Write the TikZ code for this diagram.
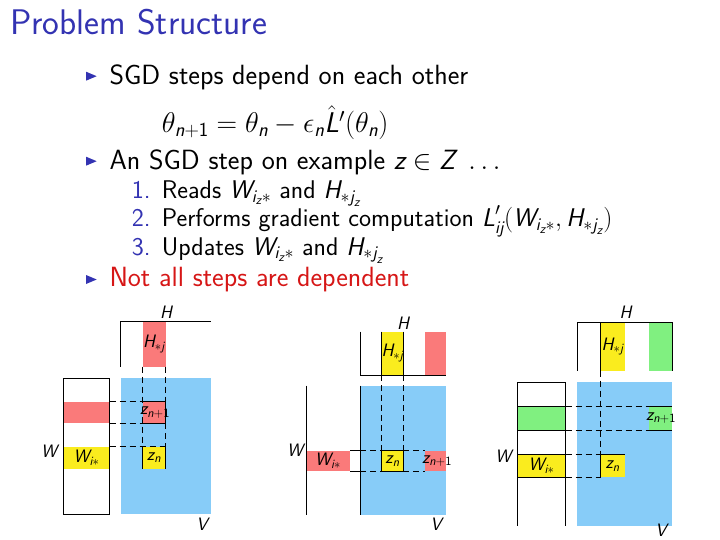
\documentclass[tikz,border=0pt]{standalone}
\usepackage{fix-cm}
\usepackage{amsmath}
\usepackage{fontspec}
\setsansfont{Latin Modern Sans}
\newcommand\msl[1]{\text{\sffamily\slshape #1}}
\newcommand\msf[1]{\text{\sffamily\upshape #1}}
\definecolor{beamerblue}{RGB}{51,51,178}
\definecolor{alertred}{RGB}{214,22,22}
\definecolor{cellred}{RGB}{250,122,122}
\definecolor{cellyellow}{RGB}{250,236,30}
\definecolor{cellblue}{RGB}{135,204,248}
\definecolor{cellgreen}{RGB}{128,240,128}
\newcommand\Wiz{\msl{W}_{\msl{i}_{\msl{z}}*}}
\newcommand\Hjz{\msl{H}_{*\msl{j}_{\msl{z}}}}
\tikzset{
  titletext/.style={anchor=base west, inner sep=0pt, text=beamerblue, font={\sffamily\fontsize{35.6}{42}\selectfont}},
  body/.style={anchor=base west, inner sep=0pt, font={\sffamily\fontsize{27.8}{33}\selectfont}},
  itemtext/.style={anchor=base west, inner sep=0pt, font={\sffamily\fontsize{25.6}{30}\selectfont}},
  formula/.style={anchor=base west, inner sep=0pt, font={\sffamily\fontsize{28.5}{33}\selectfont}},
  num/.style={itemtext, text=beamerblue},
  bul/.style={fill=beamerblue},
  dlab/.style={inner sep=0pt, font={\sffamily\fontsize{18}{21}\selectfont}},
  ln/.style={line width=0.9pt, black},
  dsh/.style={line width=0.9pt, black, dash pattern=on 6pt off 4pt},
}
\begin{document}
\begin{tikzpicture}[x=1pt,y=-1pt]
\useasboundingbox (0,0) rectangle (720,540);
% ---- text ----
\node[titletext] (title) at (10,35) {Problem Structure};
\fill[bul] (86,71.7) -- (96.7,76.2) -- (86,80.7) -- cycle;
\node[body] (b1) at (109.3,85) {SGD steps depend on each other};
\node[formula] (eq) at (161.7,132.7) {$\theta_{\msl{n}+\msf{1}} = \theta_{\msl{n}} - \epsilon_{\msl{n}}\smash{\hat{\msl{L}}}'(\theta_{\msl{n}})$};
\fill[bul] (86,156.7) -- (96.7,161.2) -- (86,165.7) -- cycle;
\node[body] (b2) at (109.3,170) {An SGD step on example $\msl{z}\in \msl{Z}\ \ldots$};
\node[num] (n1) at (131.7,198.3) {1.};
\node[itemtext] (i1) at (161.7,198.3) {Reads $\Wiz$ and $\Hjz$};
\node[num] (n2) at (131.7,226.7) {2.};
\node[itemtext] (i2) at (161.7,226.7) {Performs gradient computation $\msl{L}'_{\msl{ij}}(\Wiz, \Hjz)$};
\node[num] (n3) at (131.7,255) {3.};
\node[itemtext] (i3) at (161.7,255) {Updates $\Wiz$ and $\Hjz$};
\fill[bul] (86,275) -- (96.7,279.5) -- (86,284) -- cycle;
\node[body, text=alertred] (b3) at (109.3,286.7) {Not all steps are dependent};
% ---- diagram 1 ----
\fill[cellred] (63.5,401.5) rectangle (109.5,423);
\fill[cellyellow] (63.5,446.5) rectangle (109.5,468.5);
\draw[ln] (63.5,378) rectangle (109.5,514);
\node[dlab] (w1i) at (86.5,457.5) {$\msl{W}_{\msl{i}*}$};
\fill[cellblue] (120.5,378) rectangle (210.5,514);
\fill[cellred] (142.5,321.5) rectangle (165.5,366.5);
\draw[ln] (120.5,366.5) -- (120.5,321.5) -- (210.5,321.5);
\node[dlab] (h1j) at (154,344) {$\msl{H}_{*\msl{j}}$};
\node[dlab] (H1) at (166,312) {$\msl{H}$};
\fill[cellred] (142.5,401.5) rectangle (165.5,423);
\fill[cellyellow] (142.5,446.5) rectangle (165.5,468.5);
\draw[dsh] (109.5,401.5) -- (142.5,401.5);
\draw[dsh] (109.5,423) -- (142.5,423);
\draw[dsh] (109.5,446.5) -- (165.5,446.5);
\draw[dsh] (142.5,366.5) -- (142.5,446.5);
\draw[dsh] (165.5,366.5) -- (165.5,401.5);
\draw[dsh] (165.5,423) -- (165.5,446.5);
\draw[ln] (142.5,401.5) -- (165.5,401.5) -- (165.5,423) -- (142.5,423);
\draw[ln] (142.5,446.5) -- (142.5,468.5);
\draw[ln] (165.5,446.5) -- (165.5,468.5);
\node[dlab] (z1a) at (155,412.5) {$\msl{z}_{\msl{n}+\msf{1}}$};
\node[dlab] (z1b) at (154,457.5) {$\msl{z}_{\msl{n}}$};
\node[dlab] (W1) at (49,451) {$\msl{W}$};
\node[dlab] (V1) at (202,524) {$\msl{V}$};
% ---- diagram 2 ----
\fill[cellred] (306,450.5) rectangle (350,471);
\draw[ln] (306,385.7) -- (306,515);
\node[dlab] (w2i) at (328,461) {$\msl{W}_{\msl{i}*}$};
\fill[cellblue] (360.3,385.7) rectangle (446,515);
\draw[ln] (360.3,385.7) -- (360.3,515);
\fill[cellyellow] (381.7,331.7) rectangle (403.3,375);
\fill[cellred] (425,331.7) rectangle (446,375);
\draw[ln] (360.3,331.7) -- (360.3,375) -- (446,375);
\draw[ln] (381.7,331.7) -- (381.7,375);
\draw[ln] (403.3,331.7) -- (403.3,375);
\node[dlab] (h2j) at (392.5,353) {$\msl{H}_{*\msl{j}}$};
\node[dlab] (H2) at (403,323) {$\msl{H}$};
\fill[cellyellow] (381.7,450.5) rectangle (403.3,471);
\fill[cellred] (425,450.5) rectangle (446,471);
\draw[ln] (350,450.5) -- (360.3,450.5);
\draw[ln] (350,471) -- (360.3,471);
\draw[dsh] (360.3,450.5) -- (381.7,450.5);
\draw[dsh] (360.3,471) -- (381.7,471);
\draw[dsh] (403.3,450.5) -- (425,450.5);
\draw[dsh] (403.3,471) -- (425,471);
\draw[dsh] (381.7,375) -- (381.7,450.5);
\draw[dsh] (403.3,375) -- (403.3,450.5);
\draw[ln] (381.7,450.5) rectangle (403.3,471);
\node[dlab] (z2b) at (392.5,461) {$\msl{z}_{\msl{n}}$};
\node[dlab] (z2a) at (437,461) {$\msl{z}_{\msl{n}+\msf{1}}$};
\node[dlab] (W2) at (295,450) {$\msl{W}$};
\node[dlab] (V2) at (436,524) {$\msl{V}$};
% ---- diagram 3 ----
\fill[cellgreen] (517.3,406.5) rectangle (565.7,430.3);
\fill[cellyellow] (517.3,454.3) rectangle (565.7,477);
\draw[ln] (517.3,525.7) -- (517.3,382.3) -- (565.7,382.3) -- (565.7,525.7);
\draw[ln] (517.3,406.5) -- (565.7,406.5);
\draw[ln] (517.3,430.3) -- (565.7,430.3);
\draw[ln] (517.3,454.3) -- (565.7,454.3);
\draw[ln] (517.3,477) -- (565.7,477);
\node[dlab] (w3i) at (541.5,466) {$\msl{W}_{\msl{i}*}$};
\fill[cellblue] (577.3,382.3) rectangle (672.3,525.7);
\fill[cellyellow] (600.7,322.3) rectangle (624.7,370.7);
\fill[cellgreen] (649.3,322.3) rectangle (672.3,370.7);
\draw[ln] (577.3,370.7) -- (577.3,322.3) -- (672.3,322.3) -- (672.3,370.7);
\draw[ln] (600.7,322.3) -- (600.7,370.7);
\node[dlab] (h3j) at (612.7,346.5) {$\msl{H}_{*\msl{j}}$};
\node[dlab] (H3) at (625.7,312) {$\msl{H}$};
\fill[cellgreen] (649.3,406.5) rectangle (672.3,430.3);
\fill[cellyellow] (600.7,454.3) rectangle (624.7,477);
\draw[dsh] (565.7,406.5) -- (649.3,406.5);
\draw[dsh] (565.7,430.3) -- (649.3,430.3);
\draw[ln] (649.3,406.5) -- (672.3,406.5);
\draw[ln] (649.3,430.3) -- (672.3,430.3);
\draw[dsh] (565.7,454.3) -- (600.7,454.3);
\draw[dsh] (565.7,477) -- (600.7,477);
\draw[dsh] (600.7,370.7) -- (600.7,454.3);
\draw[ln] (600.7,477) -- (600.7,454.3) -- (624.7,454.3);
\node[dlab] (z3b) at (612.7,466) {$\msl{z}_{\msl{n}}$};
\node[dlab] (z3a) at (661,418) {$\msl{z}_{\msl{n}+\msf{1}}$};
\node[dlab] (W3) at (503.3,456.7) {$\msl{W}$};
\node[dlab] (V3) at (661,530) {$\msl{V}$};
\end{tikzpicture}
\end{document}
